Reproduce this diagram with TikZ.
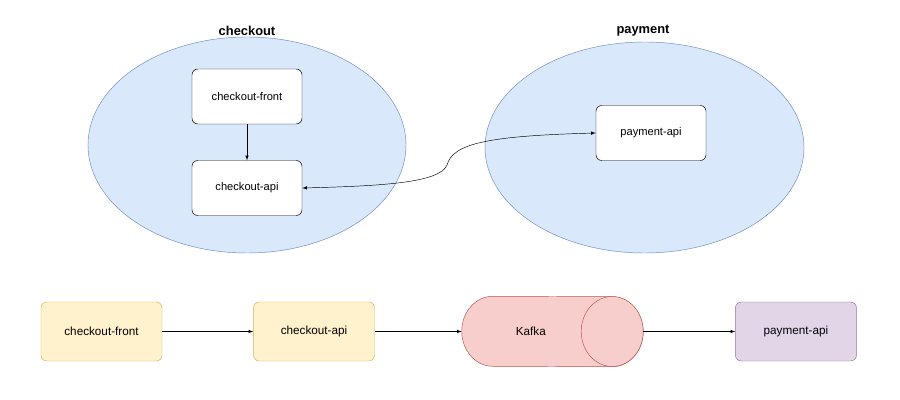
\documentclass[tikz,border=0pt]{standalone}
\usepackage{fontspec}
\setmainfont{Liberation Sans}
\usetikzlibrary{shapes.geometric,positioning}

\definecolor{grpfill}{HTML}{DAE8FC}
\definecolor{grpline}{HTML}{6C8EBF}
\definecolor{ckfill}{HTML}{FFF2CC}
\definecolor{ckline}{HTML}{D6B656}
\definecolor{kfill}{HTML}{F8CECC}
\definecolor{kline}{HTML}{B85450}
\definecolor{payfill}{HTML}{E1D5E7}
\definecolor{payline}{HTML}{9673A6}

\begin{document}
\begin{tikzpicture}[x=0.03cm,y=-0.03cm,
  grp/.style={ellipse,draw=grpline,fill=grpfill,inner sep=0pt},
  grplabel/.style={font=\fontsize{11}{13}\selectfont\bfseries},
  svc/.style={draw=black,fill=white,rounded corners=5pt,minimum width=3.3cm,
    minimum height=1.65cm,font=\fontsize{9.5}{11}\selectfont},
  flow/.style={rounded corners=5pt,minimum width=3.63cm,minimum height=1.77cm,
    font=\fontsize{10}{12}\selectfont},
  ckbox/.style={flow,draw=ckline,fill=ckfill},
  paybox/.style={flow,draw=payline,fill=payfill},
  broker/.style={minimum width=5.43cm,minimum height=2.1cm,inner sep=0pt},
  tube/.style={draw=kline,fill=kfill}]
\useasboundingbox[fill=white] (0,0) rectangle (900,400);

% top: services grouped by domain
\node[grp,minimum width=9.54cm,minimum height=6.48cm] (checkout) at (247,145) {};
\node[grp,minimum width=9.57cm,minimum height=6.33cm] (payment) at (644.5,147.5) {};
\node[grplabel] (checkout-lbl) at (247,31) {checkout};
\node[grplabel] (payment-lbl) at (643,31) {payment};

\node[svc] (ck-front) at (247,96.5) {checkout-front};
\node[svc] (ck-api) at (247,188) {checkout-api};
\node[svc] (pay-api) at (651,133) {payment-api};

\draw[-latex] (ck-front) -- (ck-api);
\draw[latex-latex] (ck-api.east) .. controls (380,186) and (440,183) .. (447,165)
  .. controls (453,144) and (485,136) .. (pay-api.west);

% bottom: the same flow through kafka
\node[ckbox] (front) at (101.5,331.5) {checkout-front};
\node[ckbox,right=2.73cm of front] (api) {checkout-api};
\node[broker,right=2.61cm of api] (kafka) {};
\node[paybox,right=2.76cm of kafka] (pay) {payment-api};

% kafka drawn as a lying cylinder
\draw[tube] ([xshift=0.93cm]kafka.north west)
  arc[start angle=90,end angle=270,x radius=0.93cm,y radius=1.05cm]
  -- ([xshift=-0.93cm]kafka.south east)
  arc[start angle=-90,end angle=90,x radius=0.93cm,y radius=1.05cm] -- cycle;
\draw[tube] ([xshift=-0.93cm]kafka.east) ellipse[x radius=0.93cm,y radius=1.05cm];
\node[font=\fontsize{10}{12}\selectfont] (kafka-lbl) at ([xshift=-0.65cm]kafka.center) {Kafka};

\draw[-latex] (front) -- (api);
\draw[-latex] (api) -- (kafka);
\draw[-latex] (kafka) -- (pay);
\end{tikzpicture}
\end{document}
